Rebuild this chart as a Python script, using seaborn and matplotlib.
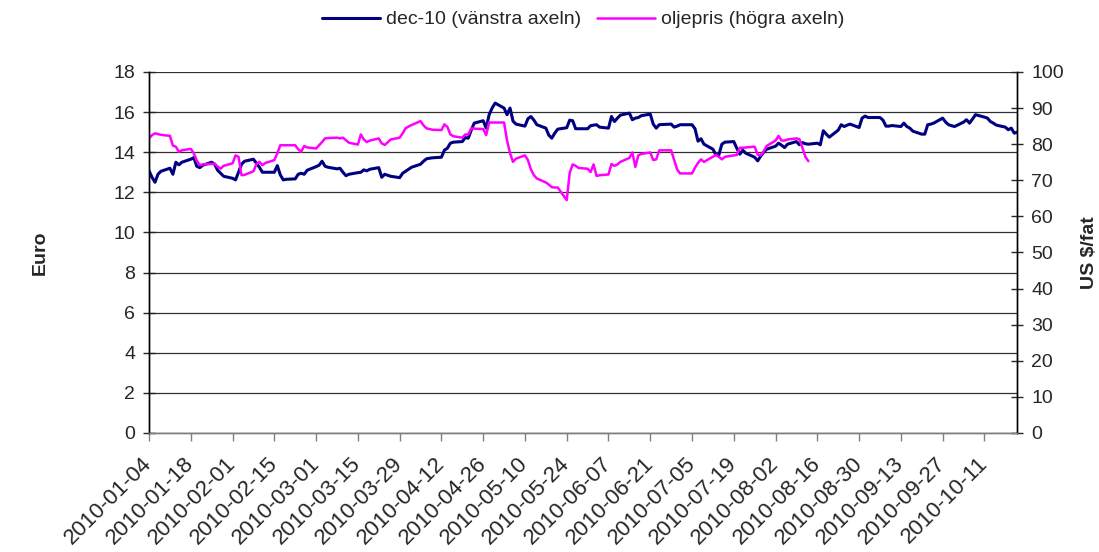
import numpy as np
import pandas as pd
import seaborn as sns
import matplotlib.pyplot as plt
import matplotlib.dates as mdates
from matplotlib.lines import Line2D

# dec-10 contract, euro (left axis), one value per trading day
dec10 = [13.07, 12.75, 12.5, 12.9, 13.05, 13.2, 12.9, 13.5, 13.37, 13.5,
         13.65, 13.73, 13.3, 13.23, 13.35, 13.5, 13.4, 13.1, 12.95, 12.8,
         12.7, 12.62, 13.0, 13.4, 13.55, 13.65, 13.45, 13.25, 13.0, 13.0,
         13.0, 13.33, 12.87, 12.62, 12.65, 12.67, 12.9, 12.95, 12.9, 13.1,
         13.28, 13.35, 13.55, 13.3, 13.25, 13.17, 13.2, 13.0, 12.83, 12.9,
         12.98, 13.0, 13.12, 13.07, 13.15, 13.23, 12.75, 12.9, 12.85, 12.8,
         12.73, 12.95, 13.05, 13.15, 13.25, 13.4, 13.55, 13.67, 13.7, 13.72,
         13.75, 14.1, 14.2, 14.45, 14.5, 14.53, 14.73, 14.7, 15.1, 15.45,
         15.57, 15.2, 15.87, 16.2, 16.45, 16.2, 15.87, 16.2, 15.55, 15.4,
         15.3, 15.67, 15.78, 15.6, 15.37, 15.2, 14.85, 14.7, 14.95, 15.15,
         15.22, 15.6, 15.57, 15.17, 15.17, 15.17, 15.32, 15.35, 15.37, 15.25,
         15.2, 15.78, 15.53, 15.7, 15.85, 15.95, 15.62, 15.7, 15.73, 15.82,
         15.9, 15.4, 15.2, 15.37, 15.38, 15.4, 15.25, 15.3, 15.37, 15.37,
         15.37, 15.17, 14.55, 14.67, 14.4, 14.15, 13.87, 13.87, 14.4, 14.5,
         14.53, 14.2, 13.9, 14.1, 13.95, 13.75, 13.57, 13.8, 14.0, 14.15,
         14.3, 14.45, 14.35, 14.23, 14.4, 14.53, 14.37, 14.48, 14.42, 14.4,
         14.45, 14.37, 15.07, 14.9, 14.75, 15.1, 15.37, 15.28, 15.35, 15.4,
         15.23, 15.7, 15.8, 15.73, 15.73, 15.73, 15.6, 15.3, 15.3, 15.33,
         15.28, 15.45, 15.28, 15.2, 15.05, 14.9, 14.9, 15.37, 15.4, 15.45,
         15.7, 15.5, 15.37, 15.32, 15.28, 15.5, 15.62, 15.45, 15.65, 15.87,
         15.75, 15.7, 15.53, 15.45, 15.35, 15.25, 15.12, 15.2, 14.95, 15.0]

# oil price, US $/barrel (right axis), ends mid August
oljepris = [81.6, 82.5, 83.0, 82.8, 82.6, 82.3, 79.6, 79.3, 77.9, 78.3,
            78.7, 77.5, 75.5, 74.2, 74.4, 74.5, 74.6, 73.8, 73.2, 74.0,
            74.7, 76.9, 76.5, 71.4, 71.5, 72.5, 74.5, 75.1, 74.2, 74.8,
            75.6, 77.5, 79.7, 79.7, 79.7, 79.7, 78.6, 77.9, 79.5, 79.1,
            78.8, 79.7, 80.6, 81.6, 81.7, 81.8, 81.6, 81.8, 81.1, 80.4,
            79.9, 82.7, 81.3, 80.6, 81.0, 81.6, 80.2, 79.8, 80.5, 81.3,
            81.8, 83.0, 84.4, 84.9, 85.3, 86.4, 85.2, 84.4, 84.2, 84.0,
            83.9, 85.5, 84.8, 82.7, 82.2, 81.8, 82.7, 82.7, 84.4, 84.3,
            84.2, 82.5, 86.0, 86.0, 86.0, 86.0, 81.0, 77.5, 75.1, 76.0,
            76.9, 75.6, 73.0, 71.4, 70.5, 69.4, 68.8, 68.1, 68.0, 68.0,
            64.5, 72.1, 74.4, 74.0, 73.4, 73.2, 72.3, 74.4, 71.2, 71.4,
            71.6, 74.5, 74.0, 74.4, 75.1, 76.2, 77.7, 73.7, 76.9, 77.3,
            77.7, 75.6, 75.8, 78.3, 78.3, 78.3, 75.6, 73.0, 71.9, 71.9,
            71.9, 73.5, 74.8, 75.8, 75.1, 76.5, 77.0, 76.5, 75.8, 76.5,
            76.9, 77.0, 79.0, 79.0, 79.1, 79.3, 77.1, 76.9, 78.0, 79.5,
            81.0, 82.3, 81.0, 81.0, 81.3, 81.6, 81.4, 79.0, 76.5, 75.3]

dates = pd.bdate_range('2010-01-04', periods=len(dec10))
tick_dates = pd.date_range('2010-01-04', '2010-10-11', freq='14D')

df1 = pd.DataFrame({'datum': dates, 'dec10': dec10})
df2 = pd.DataFrame({'datum': dates[:len(oljepris)], 'olja': oljepris})

sns.set_style('white')
plt.rcParams['font.family'] = ['Liberation Sans', 'DejaVu Sans']
plt.rcParams['font.size'] = 14

navy = '#000080'
magenta = '#FF00FF'

fig = plt.figure(figsize=(10.99, 5.52), dpi=100)
ax1 = fig.add_axes([0.1356, 0.2156, 0.79, 0.654])

sns.lineplot(x='datum', y='dec10', data=df1, ax=ax1, color=navy, linewidth=2.2)
ax1.set_ylim(0, 18)
ax1.set_yticks(range(0, 19, 2))
ax1.set_xlim(dates[0], dates[-1])
ax1.set_xticks(tick_dates)
ax1.xaxis.set_major_formatter(mdates.DateFormatter('%Y-%m-%d'))
plt.setp(ax1.get_xticklabels(), rotation=45, ha='right', va='center',
         rotation_mode='anchor', fontsize=16)
ax1.grid(axis='y', color='#303030', linewidth=0.9)
ax1.set_axisbelow(True)
ax1.set_xlabel('')
ax1.set_ylabel('Euro', fontweight='bold')
ax1.yaxis.set_label_coords(-0.116, 0.5)
ax1.tick_params(axis='y', direction='inout', length=8, width=1, pad=6, left=True)
ax1.tick_params(axis='x', direction='out', length=6, width=1, color='#808080', pad=14, bottom=True)

ax2 = ax1.twinx()
sns.lineplot(x='datum', y='olja', data=df2, ax=ax2, color=magenta, linewidth=1.8)
ax2.set_ylim(0, 100)
ax2.set_yticks(range(0, 101, 10))
ax2.set_ylabel('US $/fat', fontweight='bold')
ax2.yaxis.set_label_coords(1.074, 0.5)
ax2.tick_params(axis='y', direction='inout', length=8, width=1, pad=6, right=True)
ax2.set_xlim(dates[0], dates[-1])

for ax in (ax1, ax2):
    ax.spines['top'].set_visible(False)
    ax.spines['left'].set_color('black')
    ax.spines['right'].set_color('black')
    ax.spines['bottom'].set_color('#808080')
    for s in ax.spines.values():
        s.set_linewidth(1)

handles = [Line2D([], [], color=navy, linewidth=2.2),
           Line2D([], [], color=magenta, linewidth=1.8)]
ax1.legend(handles, ['dec-10 (vänstra axeln)', 'oljepris (högra axeln)'],
           loc='center', bbox_to_anchor=(0.5, 1.145), ncol=2, frameon=False,
           handlelength=3, handletextpad=0.3, columnspacing=0.8)

plt.savefig('out.png', dpi=100)
plt.close()
